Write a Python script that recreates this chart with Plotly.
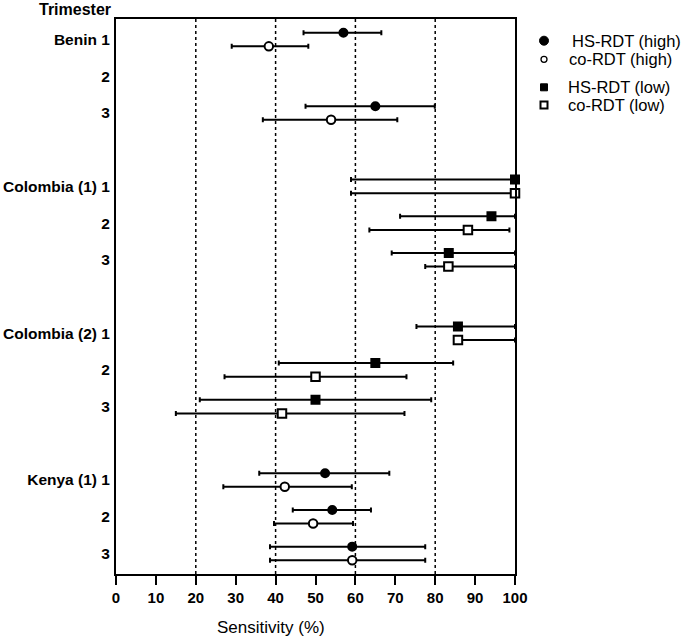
import plotly.graph_objects as go

# ---------------- data ----------------
row_labels = ["Benin 1", "2", "3",
              "Colombia (1) 1", "2", "3",
              "Colombia (2) 1", "2", "3",
              "Kenya (1) 1", "2", "3"]

hs_high = [57.0, None, 65.0, None, None, None, None, None, None, 52.4, 54.2, 59.2]
hs_high_lo = [47.0, None, 47.5, None, None, None, None, None, None, 35.9, 44.3, 38.6]
hs_high_hi = [66.5, None, 79.9, None, None, None, None, None, None, 68.5, 63.9, 77.5]

co_high = [38.3, None, 53.9, None, None, None, None, None, None, 42.3, 49.4, 59.2]
co_high_lo = [29.0, None, 36.8, None, None, None, None, None, None, 26.9, 39.6, 38.6]
co_high_hi = [48.2, None, 70.5, None, None, None, None, None, None, 59.1, 59.4, 77.5]

hs_low = [None, None, None, 100.0, 94.1, 83.4, 85.7, 65.0, 50.0, None, None, None]
hs_low_lo = [None, None, None, 58.9, 71.2, 69.1, 75.3, 40.8, 21.0, None, None, None]
hs_low_hi = [None, None, None, 100.0, 100.0, 100.0, 100.0, 84.5, 79.0, None, None, None]

co_low = [None, None, None, 100.0, 88.2, 83.3, 85.7, 50.0, 41.6, None, None, None]
co_low_lo = [None, None, None, 58.9, 63.5, 77.5, 85.0, 27.2, 15.0, None, None, None]
co_low_hi = [None, None, None, 100.0, 98.6, 100.0, 100.0, 72.8, 72.3, None, None, None]

x_ticks = [0, 10, 20, 30, 40, 50, 60, 70, 80, 90, 100]
ref_lines = [20, 40, 60, 80]
legend_names = ["HS-RDT (high)", "co-RDT (high)", "HS-RDT (low)", "co-RDT (low)"]

# ---------------- geometry ----------------
W, H = 685, 638
ML, MR, MT, MB = 116, 170, 19, 64
PW, PH = W - ML - MR, H - MT - MB
FONT = "Liberation Sans, Arial, sans-serif"


def px_x(x):
    return (x - ML) / PW


def px_y(y):
    return 1 - (y - MT) / PH


row_pos = [i + i // 3 for i in range(len(row_labels))]
OFF = 0.185


def make_trace(vals, lo, hi, offset, symbol, fill, size):
    xs, ys, ep, em = [], [], [], []
    for v, l, h, p in zip(vals, lo, hi, row_pos):
        if v is None:
            continue
        xs.append(v)
        ys.append(p + offset)
        ep.append(h - v)
        em.append(v - l)
    return go.Scatter(
        x=xs, y=ys, mode="markers", showlegend=False, cliponaxis=False,
        marker=dict(symbol=symbol, size=size, color=fill,
                    line=dict(color="black", width=2)),
        error_x=dict(type="data", symmetric=False, array=ep, arrayminus=em,
                     color="black", thickness=2, width=2.5),
    )


fig = go.Figure()
fig.add_trace(make_trace(hs_high, hs_high_lo, hs_high_hi, -OFF, "circle", "black", 8))
fig.add_trace(make_trace(co_high, co_high_lo, co_high_hi, OFF, "circle", "white", 8.5))
fig.add_trace(make_trace(hs_low, hs_low_lo, hs_low_hi, -OFF, "square", "black", 8))
fig.add_trace(make_trace(co_low, co_low_lo, co_low_hi, OFF, "square", "white", 8.5))

for v in ref_lines:
    fig.add_shape(type="line", x0=v, x1=v, y0=0, y1=1, xref="x", yref="paper",
                  line=dict(color="black", width=1.5, dash="dot"), layer="below")

# ---------------- manual legend ----------------
leg_y = [40.7, 59.3, 87.3, 105.0]
leg_text_x = [571, 568, 567, 567]
leg_mark_x = 544
leg_styles = [("circle", "black", 4.5, 1),
              ("circle", "white", 3.0, 1.3),
              ("rect", "black", 3.5, 1),
              ("rect", "white", 3.5, 2)]
for name, y, tx, (shp, fill, r, lw) in zip(legend_names, leg_y, leg_text_x, leg_styles):
    fig.add_shape(type=shp, xref="paper", yref="paper",
                  xsizemode="pixel", ysizemode="pixel",
                  xanchor=px_x(leg_mark_x), yanchor=px_y(y),
                  x0=-r, x1=r, y0=-r, y1=r,
                  fillcolor=fill, line=dict(color="black", width=lw))
    fig.add_annotation(text=name, xref="paper", yref="paper",
                       x=px_x(tx), y=px_y(y), xanchor="left", yanchor="middle",
                       showarrow=False, borderpad=0,
                       font=dict(size=16.5, family=FONT, color="black"))

fig.update_layout(
    width=W, height=H,
    margin=dict(l=ML, r=MR, t=MT, b=MB, autoexpand=False),
    plot_bgcolor="white", paper_bgcolor="white",
    font=dict(family=FONT, color="black"),
    showlegend=False,
)

fig.update_xaxes(
    range=[0, 100], tickvals=x_ticks, ticks="outside", ticklen=9, tickwidth=2,
    tickcolor="black", showline=True, linewidth=2, linecolor="black", mirror=True,
    showgrid=False, zeroline=False,
    tickfont=dict(size=15, family=FONT, weight="bold"),
)
fig.update_yaxes(
    range=[row_pos[-1] + 0.56, -0.56], tickvals=row_pos, ticktext=row_labels,
    ticks="", showline=True, linewidth=2, linecolor="black", mirror=True,
    showgrid=False, zeroline=False, ticklabelstandoff=1,
    tickfont=dict(size=15.5, family=FONT, weight="bold"),
)

fig.add_annotation(text="Trimester", xref="paper", yref="paper",
                   x=px_x(113), y=px_y(10), xanchor="right", yanchor="middle",
                   showarrow=False, font=dict(size=16, weight="bold"))
fig.add_annotation(text="Sensitivity (%)", xref="paper", yref="paper",
                   x=px_x(271), y=px_y(627), xanchor="center", yanchor="middle",
                   showarrow=False, font=dict(size=17))

fig.write_html("out.html", config={"displayModeBar": False},
               post_script="document.body.style.margin='0';document.body.style.overflow='hidden';")
